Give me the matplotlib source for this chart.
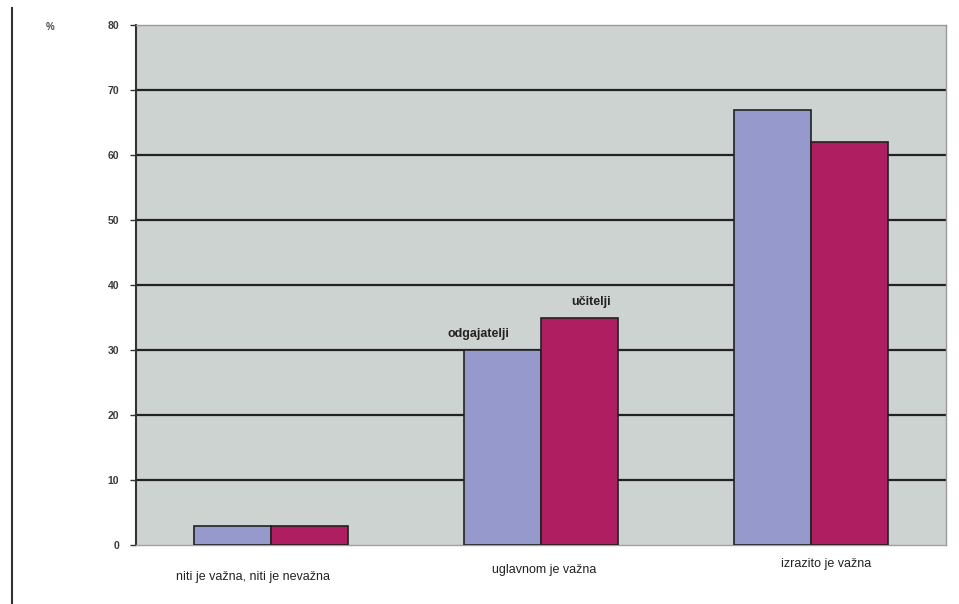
import matplotlib
matplotlib.use('Agg')
import matplotlib.pyplot as plt
from matplotlib.lines import Line2D
import numpy as np

plt.rcParams['font.family'] = ['Liberation Sans', 'DejaVu Sans']

# === podaci ===
categories = ['niti je važna, niti je nevažna', 'uglavnom je važna', 'izrazito je važna']
odgajatelji = [3, 30, 67]
ucitelji = [3, 35, 62]
yticks = [0, 10, 20, 30, 40, 50, 60, 70, 80]

C_ODG = '#9599cc'
C_UCI = '#ae1e60'
BG = '#cdd3d1'

fig = plt.figure(figsize=(9.59, 6.04), dpi=100)
fig.patch.set_facecolor('white')
ax = fig.add_axes([136/959, 1 - 545/604, 810/959, 520/604])
ax.set_facecolor(BG)

x = np.arange(len(categories))
w = 0.285
ax.bar(x - w/2, odgajatelji, w, color=C_ODG, edgecolor='#222222', linewidth=1.2, zorder=3)
ax.bar(x + w/2, ucitelji, w, color=C_UCI, edgecolor='#222222', linewidth=1.2, zorder=3)

ax.set_xlim(-0.5, 2.5)
ax.set_ylim(0, 80)
ax.set_yticks(yticks)
ax.set_yticklabels([str(t) for t in yticks], fontsize=7.5, color='#3a3a3a', fontweight='bold')
ax.tick_params(axis='y', length=4, width=1, color='#333333', pad=8)
ax.set_xticks([])
for t in yticks[1:-1]:
    ax.axhline(t, color='#222222', linewidth=1.6, zorder=1)

for s in ['top', 'right']:
    ax.spines[s].set_color('#9a9a9a')
    ax.spines[s].set_linewidth(1)
ax.spines['left'].set_color('#333333')
ax.spines['left'].set_linewidth(1.5)
ax.spines['bottom'].set_color('#a0a0a0')
ax.spines['bottom'].set_linewidth(1)

# oznake serija uz stupce
ax.annotate('odgajatelji', (x[1] - w/2, odgajatelji[1]), xytext=(-17, 7),
            textcoords='offset points', ha='center', va='bottom',
            fontsize=9, fontweight='bold', color='#222222')
ax.annotate('učitelji', (x[1] + w/2, ucitelji[1]), xytext=(8, 7),
            textcoords='offset points', ha='center', va='bottom',
            fontsize=9, fontweight='bold', color='#222222')

# nazivi kategorija
cat_off = [(-13, -23), (2, -18), (11, -14)]
for i, lab in enumerate(categories):
    ax.annotate(lab, (x[i], 0), xytext=cat_off[i], textcoords='offset points',
                ha='center', va='center', fontsize=9, color='#222222',
                annotation_clip=False)

fig.text(50/959, 1 - 27/604, '%', fontsize=7, fontweight='bold', color='#444444',
         ha='center', va='center')

# lijevi rub
fig.add_artist(Line2D([11.5/959, 11.5/959], [0, 1 - 8/604], color='#333333', linewidth=1.5))

plt.savefig('out.png', dpi=100)
